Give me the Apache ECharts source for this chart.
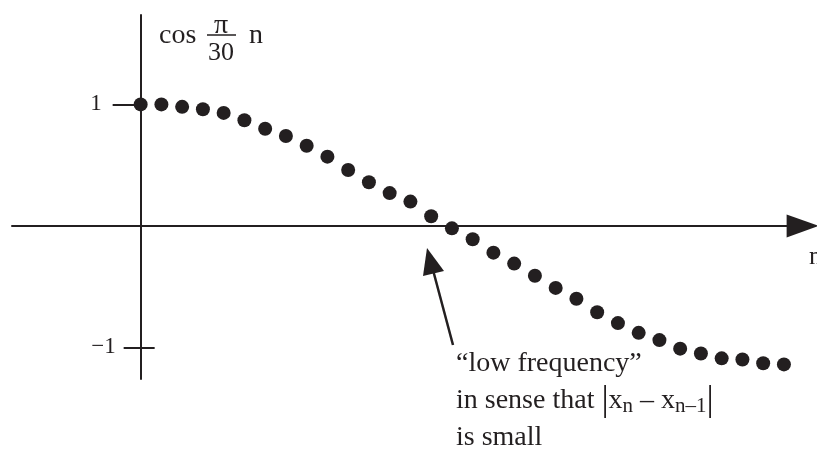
<!DOCTYPE html>
<html>
<head>
<meta charset="utf-8">
<script src="https://cdn.jsdelivr.net/npm/echarts@6/dist/echarts.min.js"></script>
<style>
  html, body { margin: 0; padding: 0; background: #fff; }
  #chart { width: 817px; height: 450px; }
</style>
</head>
<body>
<div id="chart"></div>
<script>
// Samples x_n = cos(pi n / 30), n = 0..31, as plotted
const nValues = [0,1,2,3,4,5,6,7,8,9,10,11,12,13,14,15,16,17,18,19,20,21,22,23,24,25,26,27,28,29,30,31];
const xValues = [1.00,1.00,0.98,0.96,0.93,0.87,0.80,0.74,0.66,0.57,0.46,0.36,0.27,0.20,0.08,-0.02,
                 -0.11,-0.22,-0.31,-0.41,-0.51,-0.60,-0.71,-0.80,-0.88,-0.94,-1.01,-1.05,-1.09,-1.10,-1.13,-1.14];
const yTickValues = [1, -1];
const yTickLabels = ['1', '\u22121'];

const INK = '#231f20';
const SERIF = '"Liberation Serif", "Times New Roman", serif';

// plot frame
const GRID = { left: 12, top: 15, width: 790.6, height: 364 };
const X_RANGE = [-6.2, 31.9];
const Y_RANGE = [-1.26, 1.736];
// the vertical axis crosses at n = 0: shift it in from the grid's left edge
const yAxisOffset = -(0 - X_RANGE[0]) / (X_RANGE[1] - X_RANGE[0]) * GRID.width;

const chart = echarts.init(document.getElementById('chart'), null, { renderer: 'canvas' });

const points = nValues.map((n, i) => [n, xValues[i]]);

const yBase = {
  min: Y_RANGE[0], max: Y_RANGE[1], type: 'value', position: 'left', offset: yAxisOffset,
  splitLine: { show: false },
  axisLine: { onZero: false, show: false, lineStyle: { color: INK, width: 2 } },
  axisLabel: { show: false },
  axisTick: { show: false }
};

chart.setOption({
  animation: false,
  backgroundColor: '#fff',
  grid: Object.assign({ containLabel: false, outerBoundsMode: 'none' }, GRID),
  xAxis: {
    type: 'value', min: X_RANGE[0], max: X_RANGE[1],
    splitLine: { show: false },
    axisTick: { show: false },
    axisLabel: { show: false },
    axisLine: {
      onZero: true,
      lineStyle: { color: INK, width: 2 },
      symbol: ['none', 'triangle'],
      symbolSize: [23, 32]
    }
  },
  yAxis: [
    Object.assign({}, yBase, {
      axisLine: { onZero: false, show: true, lineStyle: { color: INK, width: 2 } },
      axisTick: { show: true, customValues: [yTickValues[0]], length: 28, lineStyle: { color: INK, width: 2 } },
      axisLabel: { show: true, customValues: [yTickValues[0]], formatter: () => yTickLabels[0],
                   margin: 39, color: INK, fontFamily: SERIF, fontSize: 23 }
    }),
    Object.assign({}, yBase, {
      axisTick: { show: true, customValues: [yTickValues[1]], length: 17, lineStyle: { color: INK, width: 2 } },
      axisLabel: { show: true, customValues: [yTickValues[1]], formatter: () => yTickLabels[1],
                   margin: 25, color: INK, fontFamily: SERIF, fontSize: 23 }
    }),
    Object.assign({}, yBase, {
      axisTick: { show: true, inside: true, customValues: [yTickValues[1]], length: 14, lineStyle: { color: INK, width: 2 } }
    })
  ],
  series: [{
    type: 'scatter',
    yAxisIndex: 0,
    data: points,
    symbol: 'circle',
    symbolSize: 14,
    itemStyle: { color: INK, opacity: 1 },
    z: 5
  }],
  graphic: [
    // y-axis name: cos (pi / 30) n
    { type: 'text', left: 159, top: 22, style: { text: 'cos', font: '28px ' + SERIF, fill: INK } },
    { type: 'text', x: 221, y: 26, style: { text: '\u03c0', font: '28px ' + SERIF, fill: INK, align: 'center', verticalAlign: 'middle' } },
    { type: 'line', shape: { x1: 207, y1: 35, x2: 236, y2: 35 }, style: { stroke: INK, lineWidth: 1.5 } },
    { type: 'text', x: 221, y: 53, style: { text: '30', font: '26px ' + SERIF, fill: INK, align: 'center', verticalAlign: 'middle' } },
    { type: 'text', left: 249, top: 22, style: { text: 'n', font: '28px ' + SERIF, fill: INK } },
    // x-axis name
    { type: 'text', x: 809, y: 257, style: { text: 'n', font: '26px ' + SERIF, fill: INK, verticalAlign: 'middle' } },
    // annotation arrow
    { type: 'line', shape: { x1: 453, y1: 345, x2: 433, y2: 270 }, style: { stroke: INK, lineWidth: 2.5 } },
    { type: 'polygon', shape: { points: [[427, 248], [423, 276], [444, 271]] }, style: { fill: INK } },
    // annotation text
    {
      type: 'text', left: 456, top: 345,
      style: {
        text: '\u201clow frequency\u201d\n{t|in sense that }{bar||}{t|x}{sub|n}{t| \u2013 x}{sub|n\u20131}{bar||}\nis small',
        font: '28px ' + SERIF, fill: INK, lineHeight: 37,
        rich: {
          t: { font: '28px ' + SERIF, fill: INK },
          sub: { font: '21px ' + SERIF, fill: INK, padding: [12, 0, 0, 0] },
          bar: { font: '36px ' + SERIF, fill: INK }
        }
      }
    }
  ]
});
</script>
</body>
</html>
